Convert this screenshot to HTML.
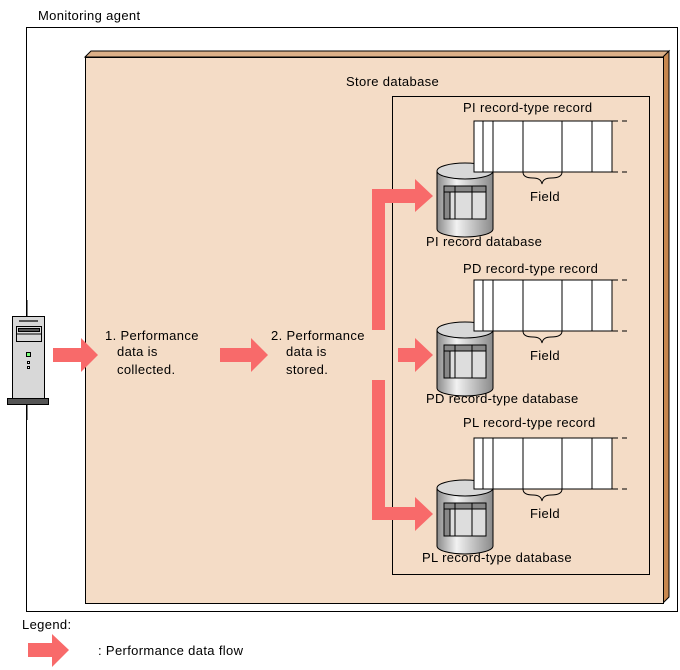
<!DOCTYPE html>
<html><head><meta charset="utf-8"><style>
body{margin:0;background:#fff}
svg{display:block}
text{font-family:"Liberation Sans",sans-serif;font-size:13px;letter-spacing:0.35px;fill:#000}
</style></head><body>
<svg width="680" height="670" viewBox="0 0 680 670">
<defs>
<linearGradient id="cyl" x1="0" x2="1" y1="0" y2="0">
<stop offset="0" stop-color="#8a8a8a"/><stop offset="0.35" stop-color="#f2f2f2"/><stop offset="1" stop-color="#8a8a8a"/>
</linearGradient>
<g id="grp">
<path d="M437 171 V229 A28 8 0 0 0 493 229 V171" fill="url(#cyl)" stroke="#000"/>
<ellipse cx="465" cy="171" rx="28" ry="8" fill="#d8d8d8" stroke="#000"/>
<rect x="474" y="121" width="138" height="51" fill="#fff" stroke="#000"/>
<line x1="483" y1="121" x2="483" y2="172" stroke="#000"/>
<line x1="493" y1="121" x2="493" y2="172" stroke="#000"/>
<line x1="523" y1="121" x2="523" y2="172" stroke="#000"/>
<line x1="562" y1="121" x2="562" y2="172" stroke="#000"/>
<line x1="592" y1="121" x2="592" y2="172" stroke="#000"/>
<line x1="612" y1="121" x2="618" y2="121" stroke="#000"/>
<line x1="612" y1="172" x2="618" y2="172" stroke="#000"/>
<line x1="622" y1="121" x2="627" y2="121" stroke="#000"/>
<line x1="622" y1="172" x2="627" y2="172" stroke="#000"/>
<path d="M523 172 Q523 178 533 178 Q541 178 542 184 Q543 178 551 178 Q562 178 562 172" fill="none" stroke="#000"/>
<text x="530" y="201">Field</text>
<rect x="444" y="186" width="42" height="33" fill="#ddd" stroke="#000"/>
<rect x="444" y="186" width="42" height="6" fill="#888" stroke="#000"/>
<rect x="444" y="192" width="6" height="27" fill="#888" stroke="#000"/>
<line x1="455" y1="186" x2="455" y2="219" stroke="#000"/>
<line x1="472" y1="186" x2="472" y2="219" stroke="#000"/>
</g>
</defs>
<text x="38" y="20">Monitoring agent</text>
<rect x="26.5" y="27.5" width="651" height="584" fill="#fff" stroke="#000"/>
<polygon points="85,57 91,51 669,51 663,57" fill="#dcb088" stroke="#000"/>
<polygon points="663,57 669,51 669,597 663,603" fill="#c8884f" stroke="#000"/>
<rect x="85.5" y="57.5" width="578" height="546" fill="#f4dcc6" stroke="#000"/>
<text x="346" y="86">Store database</text>
<rect x="392.5" y="96.5" width="257" height="478" fill="none" stroke="#000"/>

<use href="#grp"/>
<use href="#grp" y="159"/>
<use href="#grp" y="317"/>
<text x="463" y="112">PI record-type record</text>
<text x="463" y="273">PD record-type record</text>
<text x="463" y="427">PL record-type record</text>
<text x="426" y="246">PI record database</text>
<text x="426" y="403">PD record-type database</text>
<text x="422" y="562">PL record-type database</text>

<g fill="#f86a6a">
<polygon points="372,330 385,330 385,203 415,203 415,212 433,196 415,179 415,189 372,189"/>
<polygon points="398,348 415,348 415,338 433,355 415,372 415,362 398,362"/>
<polygon points="372,380 385,380 385,507 415,507 415,497 433,514 415,531 415,520 372,520"/>
<polygon points="53,348 81,348 81,338 98,355 81,372 81,362 53,362"/>
<polygon points="220,348 251,348 251,338 268,355 251,372 251,362 220,362"/>
<polygon points="28,643 52,643 52,634 69,650 52,667 52,657 28,657"/>
</g>
<text x="105" y="340">1. Performance</text>
<text x="117" y="356">data  is</text>
<text x="117" y="374">collected.</text>
<text x="271" y="340">2. Performance</text>
<text x="286" y="356">data is</text>
<text x="286" y="374">stored.</text>

<line x1="27" y1="300" x2="27" y2="317" stroke="#000"/>
<line x1="27" y1="405" x2="27" y2="420" stroke="#000"/>
<rect x="12.5" y="316.5" width="32" height="82" fill="#d8d8d8" stroke="#000"/>
<line x1="19" y1="321" x2="38" y2="321" stroke="#555" stroke-width="2"/>
<rect x="16.5" y="326.5" width="25" height="15" fill="#d8d8d8" stroke="#000"/>
<rect x="18.5" y="328.5" width="21" height="3" fill="#555" stroke="#000"/>
<line x1="16" y1="334" x2="42" y2="334" stroke="#000"/>
<rect x="26.5" y="352.5" width="4" height="4" fill="#7f7" stroke="#000"/>
<rect x="27.5" y="361.5" width="2" height="2" fill="#fff" stroke="#000"/>
<rect x="27.5" y="366.5" width="2" height="2" fill="#fff" stroke="#000"/>
<rect x="7.5" y="398.5" width="41" height="6" fill="#555" stroke="#000"/>

<text x="22" y="629">Legend:</text>
<text x="98" y="655">: Performance data flow</text>
</svg>
</body></html>
